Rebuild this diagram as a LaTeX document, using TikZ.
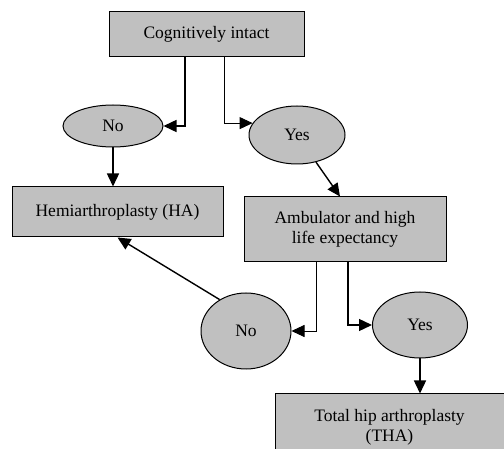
\documentclass[tikz,border=0pt]{standalone}
\usepackage{fontspec}
\setmainfont{Liberation Serif}
\usetikzlibrary{arrows.meta,shapes.geometric}
\definecolor{boxgray}{RGB}{192,192,192}
\tikzset{
    box/.style={draw, fill=boxgray, line width=1pt, align=center, font=\fontsize{17.5}{20}\selectfont},
    choice/.style={ellipse, draw, fill=boxgray, line width=1pt, inner sep=0pt, font=\fontsize{17.5}{20}\selectfont},
    flow/.style={-{Triangle[length=13pt,width=12pt]}, line width=1.4pt},
    thinflow/.style={flow, line width=0.9pt},
}

\begin{document}
\begin{tikzpicture}[x=1pt, y=-1pt]
        \clip (0,0) rectangle (504,449);
        \node[box, minimum width=195pt, minimum height=45pt] (intact) at (206.5,34.5) {Cognitively intact};
        \node[choice, minimum width=100pt, minimum height=42pt] (notop) at (113,126) {No};
        \node[choice, minimum width=96pt, minimum height=58pt] (yestop) at (297,135) {Yes};
        \node[box, minimum width=211pt, minimum height=50pt] (ha) at (117.5,212) {Hemiarthroplasty (HA)};
        \node[box, minimum width=202pt, minimum height=65pt] (amb) at (345,229.5) {Ambulator and high\\ life expectancy};
        \node[choice, minimum width=90pt, minimum height=76pt] (nobot) at (246,331) {No};
        \node[choice, minimum width=95pt, minimum height=66pt] (yesbot) at (420,325) {Yes};
        \node[box, minimum width=229pt, minimum height=66pt] (tha) at (389.5,427) {Total hip arthroplasty\\ (THA)};

        \draw[flow] ([xshift=-21.5pt]intact.south) |- (notop.east);
        \draw[thinflow] ([xshift=17.5pt]intact.south) |- (yestop.165);
        \draw[flow] (notop.south) -- (notop.south |- ha.north);
        \draw[flow] (yestop.-55) -- ([xshift=-5pt]amb.north);
        \draw[thinflow] ([xshift=-29pt]amb.south) |- (nobot.east);
        \draw[flow] ([xshift=3pt]amb.south) |- (yesbot.west);
        \draw[flow] (yesbot.south) -- (yesbot.south |- tha.north);
        \draw[flow] (nobot.130) -- (ha.south);
\end{tikzpicture}
\end{document}
